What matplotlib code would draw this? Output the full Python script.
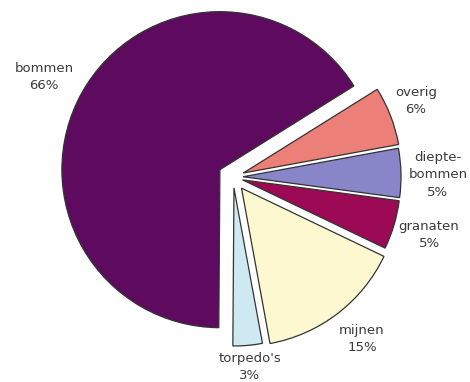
import matplotlib.pyplot as plt

# data (counter-clockwise from the top-right edge of "bommen")
categories = ["bommen", "torpedo's", "mijnen", "granaten", "diepte-\nbommen", "overig"]
shares = [66, 3, 15, 5, 5, 6]
colors = ["#5e0a5e", "#cfe9f2", "#fdf8cf", "#9c0a55", "#8886c8", "#ec8078"]

# label centres in pixel coords (from top-left)
label_pos = [(44, 77), (250, 367), (362, 339), (429, 235), (438, 175), (416, 101)]

W, H = 470, 382
R = 158
fig = plt.figure(figsize=(W / 100, H / 100), dpi=100)
ax = fig.add_axes([0, 0, 1, 1])

# slice offsets in pixels (explode is in data units here)
explode = [15, 11, 14, 10, 10, 11]

ax.pie(shares, colors=colors, explode=explode, startangle=32,
       center=(233, H - 177), radius=R, frame=True,
       wedgeprops=dict(edgecolor="#333333", linewidth=0.9))
ax.set_xlim(0, W)
ax.set_ylim(0, H)
ax.set_aspect("equal")
ax.axis("off")

for name, val, (x, y) in zip(categories, shares, label_pos):
    ax.text(x, H - y, f"{name}\n{val}%", ha="center", va="center",
            fontsize=9.5, family="DejaVu Sans", color="#3a3a3a",
            linespacing=1.45)

fig.savefig("out.png", dpi=100)
